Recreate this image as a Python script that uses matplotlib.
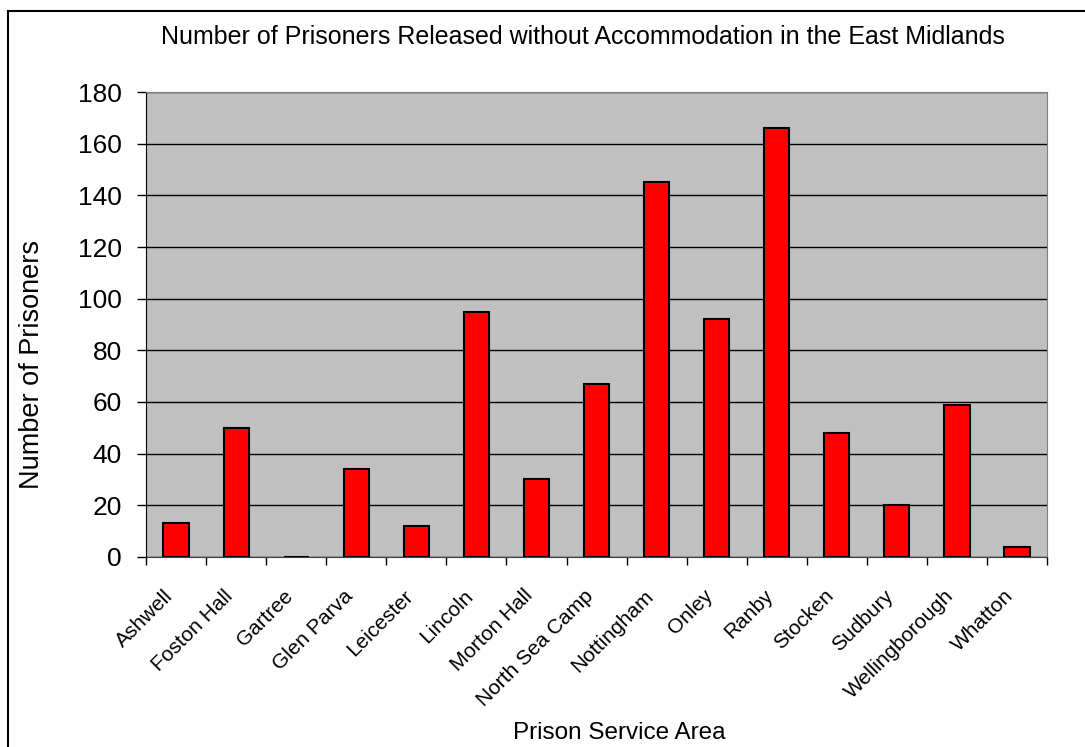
import matplotlib
matplotlib.use("Agg")
import matplotlib.pyplot as plt
import matplotlib.transforms as mtransforms
import numpy as np
from matplotlib.patches import Rectangle

plt.rcParams['font.family'] = ['Liberation Sans', 'DejaVu Sans']

# data
prisons = ['Ashwell', 'Foston Hall', 'Gartree', 'Glen Parva', 'Leicester', 'Lincoln',
           'Morton Hall', 'North Sea Camp', 'Nottingham', 'Onley', 'Ranby', 'Stocken',
           'Sudbury', 'Wellingborough', 'Whatton']
released = [13, 50, 0, 34, 12, 95, 30, 67, 145, 92, 166, 48, 20, 59, 4]
y_ticks = [0, 20, 40, 60, 80, 100, 120, 140, 160, 180]

fig = plt.figure(figsize=(10.85, 7.47), dpi=100)
ax = fig.add_axes([0.1346, 0.2544, 0.8304, 0.6224])

# outer chart border
fig.patches.append(Rectangle((8 / 1085, -0.1), 1.2, 1 - 11 / 747 + 0.1,
                             transform=fig.transFigure, fill=False,
                             edgecolor='black', linewidth=1.5))

x = np.arange(len(prisons))
ax.set_facecolor('#C0C0C0')
ax.bar(x, released, width=0.42, color='#FF0000', edgecolor='black', linewidth=1.5, zorder=3)

ax.set_xlim(-0.5, len(prisons) - 0.5)
ax.set_ylim(0, 180)
ax.set_yticks(y_ticks)
ax.yaxis.grid(True, color='black', linewidth=1)
ax.set_axisbelow(True)

# ticks at category boundaries, labels at centres
ax.set_xticks(np.arange(len(prisons) + 1) - 0.5)
ax.set_xticklabels([])
ax.set_xticks(x, minor=True)
ax.set_xticklabels(prisons, minor=True, rotation=45, ha='right', va='top',
                   rotation_mode='anchor', fontsize=15)
ax.tick_params(axis='x', which='minor', length=0, pad=21)
ax.tick_params(axis='x', which='major', length=6, width=1, color='black', direction='out')
ax.tick_params(axis='y', length=6.5, width=1, direction='out', labelsize=19, pad=11)

shift = mtransforms.ScaledTranslation(-13 / 100, 0, fig.dpi_scale_trans)
for lab in ax.get_xticklabels(minor=True):
    lab.set_transform(lab.get_transform() + shift)

for s in ['top', 'right']:
    ax.spines[s].set_color('#808080')
ax.spines['left'].set_color('black')
ax.spines['bottom'].set_color('#404040')

fig.text(32 / 1085, 1 - 364 / 747, 'Number of Prisoners', rotation=90,
         ha='center', va='center', fontsize=19.5)
fig.text(583 / 1085, 1 - 37 / 747, 'Number of Prisoners Released without Accommodation in the East Midlands',
         ha='center', va='center', fontsize=18)
fig.text(619 / 1085, 1 - 733 / 747, 'Prison Service Area', ha='center', va='center', fontsize=17.5)

fig.savefig('out.png', dpi=100)
